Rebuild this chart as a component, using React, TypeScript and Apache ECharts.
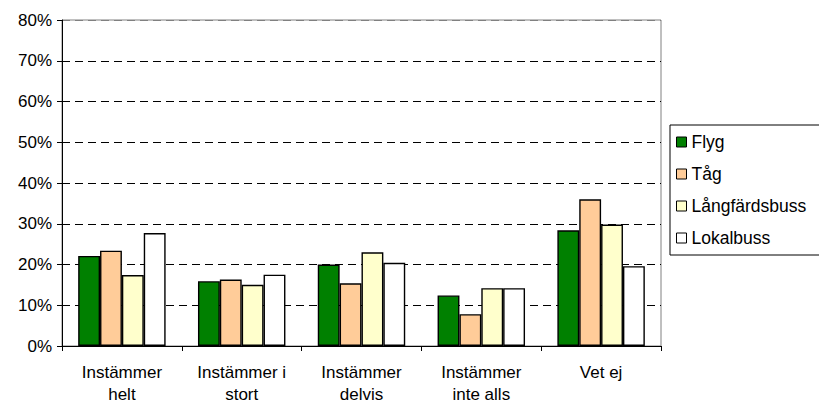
import React, { useEffect, useRef } from "react";
import * as echarts from "echarts";

const categories = ["Instämmer\nhelt", "Instämmer i\nstort", "Instämmer\ndelvis", "Instämmer\ninte alls", "Vet ej"];
const seriesNames = ["Flyg", "Tåg", "Långfärdsbuss", "Lokalbuss"];
const flyg = [22.1, 15.9, 20.0, 12.4, 28.4];
const tag = [23.4, 16.3, 15.4, 7.8, 36.0];
const langfardsbuss = [17.4, 15.0, 23.0, 14.2, 29.8];
const lokalbuss = [27.7, 17.5, 20.4, 14.2, 19.6];
const seriesValues = [flyg, tag, langfardsbuss, lokalbuss];
const colors = ["#008000", "#FFCC99", "#FFFFCC", "#FFFFFF"];
const yTicks = [0, 10, 20, 30, 40, 50, 60, 70, 80];

const FONT = "'Liberation Sans', Arial, sans-serif";

export default function App() {
  const ref = useRef<HTMLDivElement>(null);
  useEffect(() => {
    document.body.style.margin = "0";
    const chart = echarts.init(ref.current!, undefined, { renderer: "svg" });
    chart.setOption({
      animation: false,
      backgroundColor: "#ffffff",
      textStyle: { fontFamily: FONT },
      grid: {
        left: 62,
        right: 158,
        top: 20,
        bottom: 59,
        show: true,
        borderColor: "#808080",
        borderWidth: 1,
        containLabel: false,
        outerBoundsMode: "none",
      },
      legend: {
        orient: "vertical",
        left: 670,
        top: 125,
        data: seriesNames,
        icon: "rect",
        itemWidth: 10,
        itemHeight: 10,
        itemGap: 14,
        itemStyle: { borderColor: "#000", borderWidth: 1 },
        textStyle: { fontFamily: FONT, fontSize: 17.5, color: "#000", lineHeight: 18 },
        borderColor: "#000",
        borderWidth: 1,
        padding: [8, 20, 8, 6],
        backgroundColor: "#fff",
      },
      xAxis: {
        type: "category",
        data: categories,
        axisLine: { lineStyle: { color: "#000", width: 1 } },
        axisTick: { show: true, length: 5, lineStyle: { color: "#000" } },
        axisLabel: {
          fontFamily: FONT,
          fontSize: 17,
          color: "#000",
          lineHeight: 22,
          margin: 15,
          interval: 0,
        },
      },
      yAxis: {
        type: "value",
        min: 0,
        max: 80,
        interval: 10,
        axisLine: { show: true, lineStyle: { color: "#000", width: 1 } },
        axisTick: { show: true, length: 5, lineStyle: { color: "#000" } },
        axisLabel: {
          fontFamily: FONT,
          fontSize: 17,
          color: "#000",
          margin: 10,
          formatter: (v: number) => (yTicks.includes(v) ? v + "%" : ""),
        },
        splitLine: {
          show: true,
          lineStyle: {
            color: ["#000", "#000", "#000", "#000", "#000", "#000", "#000", "#000", "#808080"],
            type: [8, 5],
            width: 1,
          },
        },
      },
      series: seriesNames.map((name, i) => ({
        name,
        type: "bar",
        data: seriesValues[i],
        barGap: "0%",
        barCategoryGap: "27%",
        itemStyle: { color: colors[i], borderColor: "#000", borderWidth: 1.4 },
      })),
    });
    return () => chart.dispose();
  }, []);
  return <div ref={ref} style={{ width: 819, height: 405 }} />;
}
